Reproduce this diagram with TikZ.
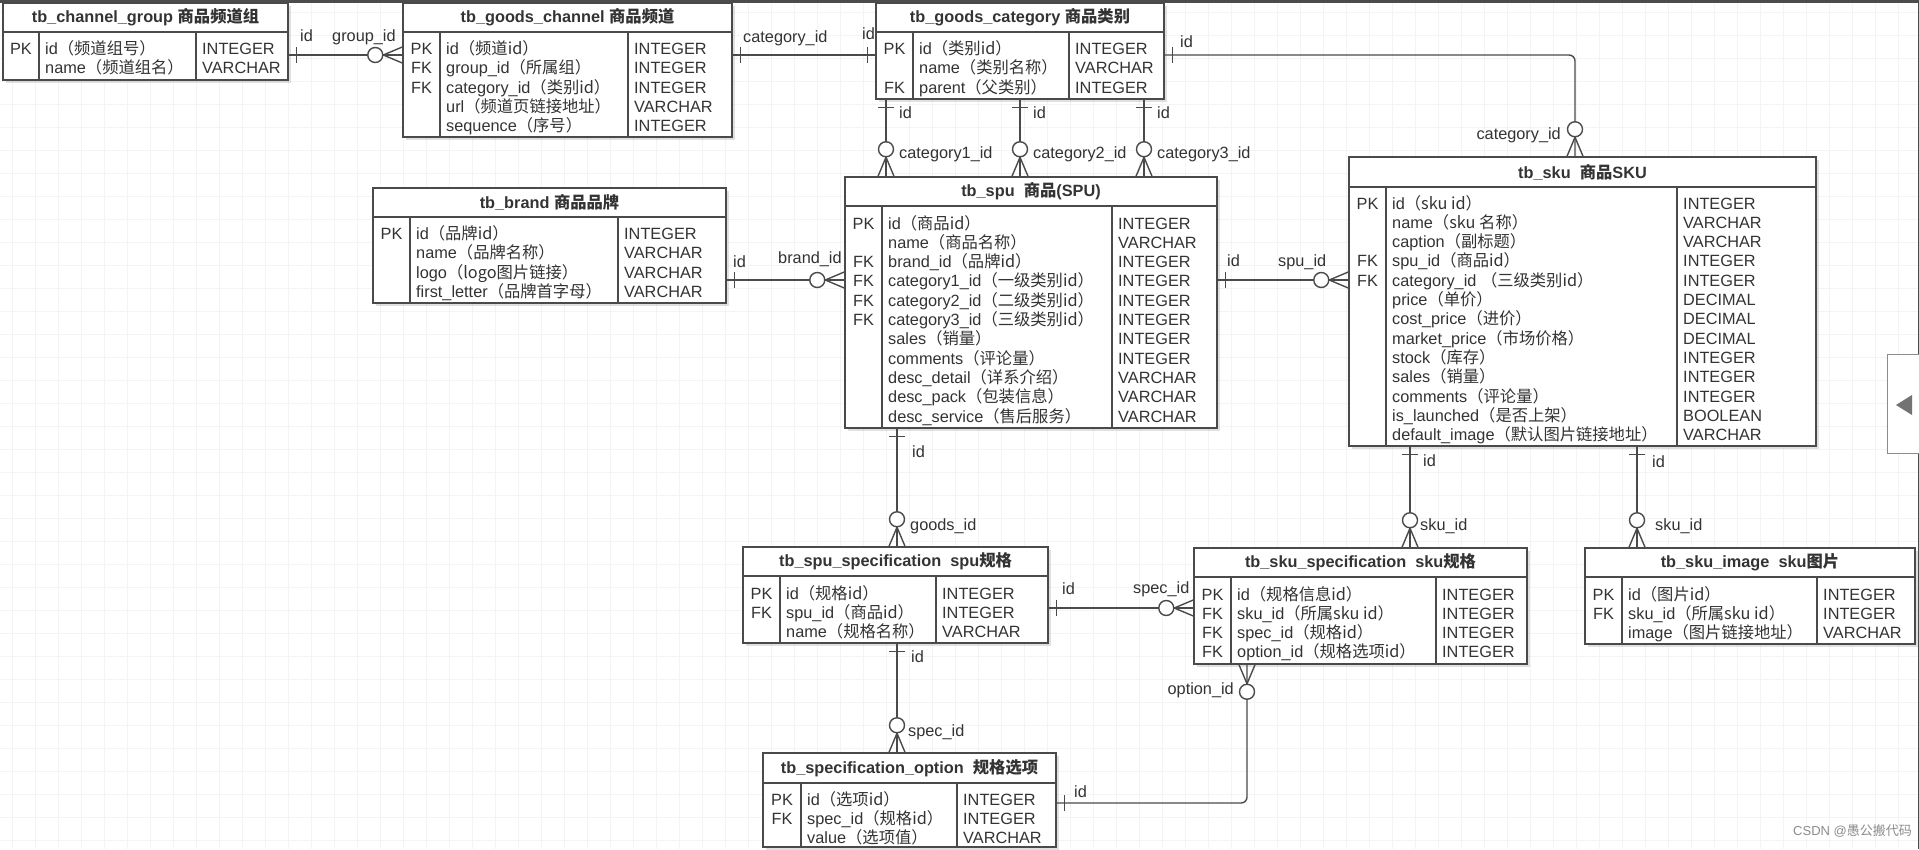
\documentclass[tikz,border=0pt]{standalone}
\usepackage{fontspec}
\setmainfont{Liberation Sans}
\newfontfamily\cjk{Noto Sans CJK SC}
\usetikzlibrary{fit,shadows}
\newcommand{\zh}[1]{{\cjk #1}}
\definecolor{ln}{HTML}{4A4A4A}
\definecolor{tx}{HTML}{333333}
\definecolor{gridc}{HTML}{F4F4F4}
\tikzset{
 tblbox/.style={draw=ln, line width=1.5pt, inner sep=0pt, fill=white,
   drop shadow={shadow xshift=3pt, shadow yshift=-3pt, fill=black, opacity=0.12}},
 sepline/.style={draw=ln, line width=1.5pt},
 cell/.style={anchor=base west, inner sep=0pt, text=tx, font=\fontsize{16.3}{19}\selectfont},
 keycell/.style={anchor=base, inner sep=0pt, text=tx, font=\fontsize{16.3}{19}\selectfont},
 ttl/.style={anchor=center, inner sep=0pt, text=tx, font=\fontsize{16.3}{19}\selectfont\bfseries},
 conn/.style={draw=ln, line width=1.4pt},
 lbl/.style={anchor=base west, inner sep=0pt, text=tx, font=\fontsize{16.3}{19}\selectfont},
 lblr/.style={anchor=base east, inner sep=0pt, text=tx, font=\fontsize{16.3}{19}\selectfont},
 gridline/.style={draw=gridc, line width=0.6pt},
 onemark/.pic={\draw[conn] (8,-8) -- (8,8);},
 zmany/.pic={\draw[conn] (0,-8) -- (19,0) -- (0,8); \draw[conn, fill=white] (27,0) circle[radius=7.5];},
}
% #1 name, #2 left, #3 top, #4 right, #5 bottom, #6 header y, #7 pk x, #8 type x, #9 title
\newcommand{\ertable}[9]{%
 \node[tblbox, fit={(#2,#3) (#4,#5)}] (#1) {};
 \draw[sepline] (#2,#6) -- (#4,#6) (#7,#6) -- (#7,#5) (#8,#6) -- (#8,#5);
 \node[ttl] (#1-title) at ({(#2+#4)/2},{(#3+#6)/2}) {#9};
}
% #1 style, #2 prefix, #3 x, #4 first baseline, #5 list
\newcommand{\ercol}[5]{%
 \foreach \entry [count=\rowi] in {#5} {\node[#1] (#2\rowi) at (#3,{#4+(\rowi-1)*19.3}) {\entry};}
}
\begin{document}
\begin{tikzpicture}[x=1pt,y=-1pt]
\useasboundingbox (0,0) rectangle (1919,849);
\fill[white] (0,0) rectangle (1919,849);
\foreach \gx in {12,35,...,1919} {\draw[gridline] (\gx,0) -- (\gx,849);}
\foreach \gy in {12,35,...,849} {\draw[gridline] (0,\gy) -- (1919,\gy);}
\draw[black!70, line width=2.6pt] (0,1.3) -- (1919,1.3);
\draw[black!70, line width=1.5pt] (1918.3,0) -- (1918.3,849);

% ---------- tables ----------
\ertable{cg}{3}{3}{288}{80}{32}{39}{196}{tb\_channel\_group \zh{商品频道组}}
\ercol{keycell}{cgk}{21}{54.5}{PK,{}}
\ercol{cell}{cgf}{45}{54.5}{id\zh{（频道组号）}, name\zh{（频道组名）}}
\ercol{cell}{cgt}{202}{54.5}{INTEGER,VARCHAR}

\ertable{gc}{403}{3}{732}{137}{32}{440}{628}{tb\_goods\_channel \zh{商品频道}}
\ercol{keycell}{gck}{421.5}{54.5}{PK,FK,FK,{},{}}
\ercol{cell}{gcf}{446}{54.5}{id\zh{（频道id）}, group\_id\zh{（所属组）}, category\_id\zh{（类别id）}, url\zh{（频道页链接地址）}, sequence\zh{（序号）}}
\ercol{cell}{gct}{634}{54.5}{INTEGER,INTEGER,INTEGER,VARCHAR,INTEGER}

\ertable{gcat}{876}{3}{1164}{99}{32}{913}{1069}{tb\_goods\_category \zh{商品类别}}
\ercol{keycell}{gcatk}{894.5}{54.5}{PK,{},FK}
\ercol{cell}{gcatf}{919}{54.5}{id\zh{（类别id）}, name\zh{（类别名称）}, parent\zh{（父类别）}}
\ercol{cell}{gcatt}{1075}{54.5}{INTEGER,VARCHAR,INTEGER}

\ertable{brand}{373}{188}{726}{303}{217}{410}{618}{tb\_brand \zh{商品品牌}}
\ercol{keycell}{brk}{391.5}{239.5}{PK,{},{},{}}
\ercol{cell}{brf}{416}{239.5}{id\zh{（品牌id）}, name\zh{（品牌名称）}, logo\zh{（logo图片链接）}, first\_letter\zh{（品牌首字母）}}
\ercol{cell}{brt}{624}{239.5}{INTEGER,VARCHAR,VARCHAR,VARCHAR}

\ertable{spu}{845}{177}{1217}{428}{206}{882}{1112}{tb\_spu\ \ \zh{商品}(SPU)}
\ercol{keycell}{spuk}{863.5}{229}{PK,{},FK,FK,FK,FK,{},{},{},{},{}}
\ercol{cell}{spuf}{888}{229}{id\zh{（商品id）}, name\zh{（商品名称）}, brand\_id\zh{（品牌id）}, category1\_id\zh{（一级类别id）}, category2\_id\zh{（二级类别id）}, category3\_id\zh{（三级类别id）}, sales\zh{（销量）}, comments\zh{（评论量）}, desc\_detail\zh{（详系介绍）}, desc\_pack\zh{（包装信息）}, desc\_service\zh{（售后服务）}}
\ercol{cell}{sput}{1118}{229}{INTEGER,VARCHAR,INTEGER,INTEGER,INTEGER,INTEGER,INTEGER,INTEGER,VARCHAR,VARCHAR,VARCHAR}

\ertable{sku}{1349}{157}{1816}{446}{187}{1386}{1677}{tb\_sku\ \ \zh{商品}SKU}
\ercol{keycell}{skuk}{1367.5}{209}{PK,{},{},FK,FK,{},{},{},{},{},{},{},{}}
\ercol{cell}{skuf}{1392}{209}{id\zh{（sku id）}, name\zh{（sku 名称）}, caption\zh{（副标题）}, spu\_id\zh{（商品id）}, category\_id \zh{（三级类别id）}, price\zh{（单价）}, cost\_price\zh{（进价）}, market\_price\zh{（市场价格）}, stock\zh{（库存）}, sales\zh{（销量）}, comments\zh{（评论量）}, is\_launched\zh{（是否上架）}, default\_image\zh{（默认图片链接地址）}}
\ercol{cell}{skut}{1683}{209}{INTEGER,VARCHAR,VARCHAR,INTEGER,INTEGER,DECIMAL,DECIMAL,DECIMAL,INTEGER,INTEGER,INTEGER,BOOLEAN,VARCHAR}

\ertable{spuspec}{743}{547}{1048}{643}{576}{780}{936}{tb\_spu\_specification\ \ spu\zh{规格}}
\ercol{keycell}{sspk}{761.5}{599}{PK,FK,{}}
\ercol{cell}{sspf}{786}{599}{id\zh{（规格id）}, spu\_id\zh{（商品id）}, name\zh{（规格名称）}}
\ercol{cell}{sspt}{942}{599}{INTEGER,INTEGER,VARCHAR}

\ertable{skuspec}{1194}{548}{1527}{664}{577}{1231}{1436}{tb\_sku\_specification\ \ sku\zh{规格}}
\ercol{keycell}{sskk}{1212.5}{600}{PK,FK,FK,FK}
\ercol{cell}{sskf}{1237}{600}{id\zh{（规格信息id）}, sku\_id\zh{（所属sku id）}, spec\_id\zh{（规格id）}, option\_id\zh{（规格选项id）}}
\ercol{cell}{sskt}{1442}{600}{INTEGER,INTEGER,INTEGER,INTEGER}

\ertable{skuimg}{1585}{548}{1915}{644}{577}{1622}{1817}{tb\_sku\_image\ \ sku\zh{图片}}
\ercol{keycell}{simk}{1603.5}{600}{PK,FK,{}}
\ercol{cell}{simf}{1628}{600}{id\zh{（图片id）}, sku\_id\zh{（所属sku id）}, image\zh{（图片链接地址）}}
\ercol{cell}{simt}{1823}{600}{INTEGER,INTEGER,VARCHAR}

\ertable{specopt}{763}{753}{1056}{847}{783}{801}{957}{tb\_specification\_option\ \ \zh{规格选项}}
\ercol{keycell}{sok}{782}{805}{PK,FK,{}}
\ercol{cell}{sof}{807}{805}{id\zh{（选项id）}, spec\_id\zh{（规格id）}, value\zh{（选项值）}}
\ercol{cell}{sot}{963}{805}{INTEGER,INTEGER,VARCHAR}

% ---------- connectors ----------
% C1 channel_group -> goods_channel
\draw[conn] ([yshift=-13.5pt]cg.east) coordinate (c1s) -- ([yshift=15pt]gc.west) coordinate (c1e);
\pic at (c1s) {onemark}; \pic[rotate=180] at (c1e) {zmany};
\node[lbl] (l1a) at (300,41) {id};
\node[lbl] (l1b) at (332,41) {group\_id};
% C2 goods_channel -> goods_category
\draw[conn] ([yshift=15pt]gc.east) coordinate (c2s) -- ([yshift=-4pt]gcat.west) coordinate (c2e);
\pic at (c2s) {onemark}; \pic[rotate=180] at (c2e) {onemark};
\node[lbl] (l2a) at (743,42) {category\_id};
\node[lbl] (l2b) at (862,39) {id};
% C3-C5 goods_category -> spu
\draw[conn] ([xshift=-134pt]gcat.south) coordinate (c3s) -- ([xshift=-145pt]spu.north) coordinate (c3e);
\pic[rotate=-90] at (c3s) {onemark}; \pic[rotate=90] at (c3e) {zmany};
\node[lbl] (l3a) at (899,118) {id};
\node[lbl] (l3b) at (899,158) {category1\_id};
\draw[conn] (gcat.south) coordinate (c4s) -- ([xshift=-11pt]spu.north) coordinate (c4e);
\pic[rotate=-90] at (c4s) {onemark}; \pic[rotate=90] at (c4e) {zmany};
\node[lbl] (l4a) at (1033,118) {id};
\node[lbl] (l4b) at (1033,158) {category2\_id};
\draw[conn] ([xshift=124pt]gcat.south) coordinate (c5s) -- ([xshift=113pt]spu.north) coordinate (c5e);
\pic[rotate=-90] at (c5s) {onemark}; \pic[rotate=90] at (c5e) {zmany};
\node[lbl] (l5a) at (1157,118) {id};
\node[lbl] (l5b) at (1157,158) {category3\_id};
% C6 goods_category -> sku
\draw[conn, rounded corners=6pt] ([yshift=-4pt]gcat.east) coordinate (c6s) -| ([xshift=-7.5pt]sku.north) coordinate (c6e);
\pic at (c6s) {onemark}; \pic[rotate=90] at (c6e) {zmany};
\node[lbl] (l6a) at (1180,47) {id};
\node[lblr] (l6b) at (1561,139) {category\_id};
% C7 brand -> spu
\draw[conn] ([yshift=-34.5pt]brand.east) coordinate (c7s) -- ([yshift=22.5pt]spu.west) coordinate (c7e);
\pic at (c7s) {onemark}; \pic[rotate=180] at (c7e) {zmany};
\node[lbl] (l7a) at (733,267) {id};
\node[lbl] (l7b) at (778,263) {brand\_id};
% C8 spu -> sku
\draw[conn] ([yshift=22.5pt]spu.east) coordinate (c8s) -- ([yshift=21.5pt]sku.west) coordinate (c8e);
\pic at (c8s) {onemark}; \pic[rotate=180] at (c8e) {zmany};
\node[lbl] (l8a) at (1227,266) {id};
\node[lbl] (l8b) at (1278,266) {spu\_id};
% C9 spu -> spu_specification
\draw[conn] ([xshift=-134pt]spu.south) coordinate (c9s) -- ([xshift=1.5pt]spuspec.north) coordinate (c9e);
\pic[rotate=-90] at (c9s) {onemark}; \pic[rotate=90] at (c9e) {zmany};
\node[lbl] (l9a) at (912,457) {id};
\node[lbl] (l9b) at (910,530) {goods\_id};
% C10 sku -> sku_specification
\draw[conn] ([xshift=-172.5pt]sku.south) coordinate (c10s) -- ([xshift=49.5pt]skuspec.north) coordinate (c10e);
\pic[rotate=-90] at (c10s) {onemark}; \pic[rotate=90] at (c10e) {zmany};
\node[lbl] (l10a) at (1423,466) {id};
\node[lbl] (l10b) at (1420,530) {sku\_id};
% C11 sku -> sku_image
\draw[conn] ([xshift=54.5pt]sku.south) coordinate (c11s) -- ([xshift=-113pt]skuimg.north) coordinate (c11e);
\pic[rotate=-90] at (c11s) {onemark}; \pic[rotate=90] at (c11e) {zmany};
\node[lbl] (l11a) at (1652,467) {id};
\node[lbl] (l11b) at (1655,530) {sku\_id};
% C12 spu_specification -> sku_specification
\draw[conn] ([yshift=-13pt]spuspec.east) coordinate (c12s) -- ([yshift=-2pt]skuspec.west) coordinate (c12e);
\pic at (c12s) {onemark}; \pic[rotate=180] at (c12e) {zmany};
\node[lbl] (l12a) at (1062,594) {id};
\node[lbl] (l12b) at (1133,593) {spec\_id};
% C13 spu_specification -> specification_option
\draw[conn] ([xshift=1.5pt]spuspec.south) coordinate (c13s) -- ([xshift=-12.5pt]specopt.north) coordinate (c13e);
\pic[rotate=-90] at (c13s) {onemark}; \pic[rotate=90] at (c13e) {zmany};
\node[lbl] (l13a) at (911,662) {id};
\node[lbl] (l13b) at (908,736) {spec\_id};
% C14 sku_specification -> specification_option
\draw[conn, rounded corners=6pt] ([xshift=-113.5pt]skuspec.south) coordinate (c14s) |- ([yshift=-3pt]specopt.east) coordinate (c14e);
\pic[rotate=-90] at (c14s) {zmany}; \pic at (c14e) {onemark};
\node[lblr] (l14a) at (1234,694) {option\_id};
\node[lbl] (l14b) at (1074,797) {id};

% side button
\draw[black!45, fill=white, line width=1pt] (1887,354) rectangle (1925,453);
\fill[black!55] (1896,405) -- (1912,395) -- (1912,415) -- cycle;
% watermark
\node[anchor=base west, inner sep=0pt, text=black!45, font=\fontsize{13}{15}\selectfont] (wm) at (1793,835) {CSDN @\zh{愚公搬代码}};
\end{tikzpicture}
\end{document}
